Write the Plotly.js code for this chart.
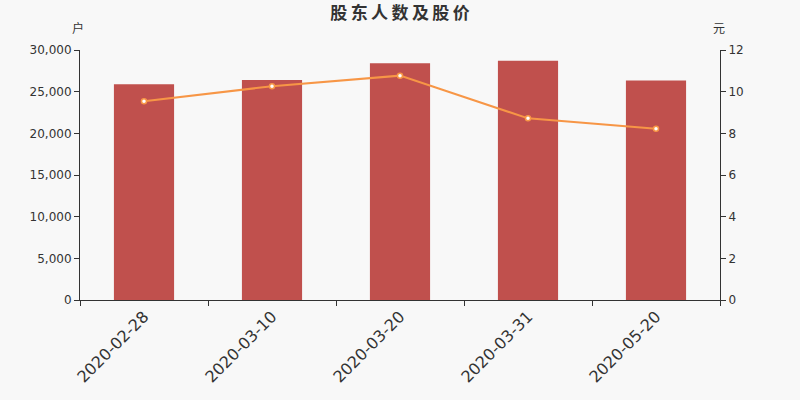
<!DOCTYPE html>
<html>
<head>
<meta charset="utf-8">
<script src="https://cdn.plot.ly/plotly-3.0.1.min.js"></script>
<style>body{margin:0;background:#f8f8f8}</style>
</head>
<body>
<div id="chart" style="width:800px;height:400px"></div>
<script>
var dates = ['2020-02-28', '2020-03-10', '2020-03-20', '2020-03-31', '2020-05-20'];
var holders = [25900, 26400, 28400, 28700, 26350];
var prices = [9.54, 10.26, 10.77, 8.72, 8.22];

var font = 'DejaVu Sans, Noto Sans CJK SC, sans-serif';
var cjk = 'Noto Sans CJK SC, sans-serif';

// title characters spaced out a little, like the original
var titleText = '股东人数及股价'.split('').join('\u2009');

var data = [
    {
        x: dates,
        y: holders,
        type: 'bar',
        name: '股东人数',
        marker: {color: '#c0504d'},
        hoverinfo: 'x+y'
    },
    {
        x: dates,
        y: prices,
        type: 'scatter',
        mode: 'lines+markers',
        name: '股价',
        yaxis: 'y2',
        line: {color: '#f79646', width: 2},
        marker: {size: 5, color: '#ffffff', line: {color: '#f79646', width: 1.5}}
    }
];

var layout = {
    width: 800,
    height: 400,
    paper_bgcolor: '#f8f8f8',
    plot_bgcolor: '#f8f8f8',
    showlegend: false,
    bargap: 0.53,
    margin: {l: 80, r: 80, t: 50, b: 100},
    font: {family: font, color: '#333'},
    title: {
        text: titleText,
        x: 0.5,
        xanchor: 'center',
        y: 0.967,
        yanchor: 'middle',
        font: {size: 17, family: cjk, color: '#333', weight: 'bold'}
    },
    xaxis: {
        type: 'category',
        showline: true,
        linecolor: '#333',
        linewidth: 1,
        ticks: 'outside',
        tickson: 'boundaries',
        ticklen: 5,
        tickcolor: '#333',
        tickangle: -45,
        tickfont: {size: 16, color: '#333'},
        showgrid: false,
        zeroline: false
    },
    yaxis: {
        range: [0, 30000],
        dtick: 5000,
        tickformat: ',d',
        showline: true,
        linecolor: '#333',
        ticks: 'outside',
        ticklen: 5,
        tickcolor: '#333',
        tickfont: {size: 12, color: '#333'},
        showgrid: false,
        zeroline: false
    },
    yaxis2: {
        range: [0, 12],
        dtick: 2,
        overlaying: 'y',
        side: 'right',
        showline: true,
        linecolor: '#333',
        ticks: 'outside',
        ticklen: 5,
        tickcolor: '#333',
        tickfont: {size: 12, color: '#333'},
        showgrid: false,
        zeroline: false
    },
    annotations: [
        {text: '户', xref: 'paper', yref: 'paper', x: -0.003, y: 1.088,
         xanchor: 'center', yanchor: 'middle', showarrow: false,
         font: {size: 12, family: cjk, color: '#333'}},
        {text: '元', xref: 'paper', yref: 'paper', x: 0.998, y: 1.088,
         xanchor: 'center', yanchor: 'middle', showarrow: false,
         font: {size: 12, family: cjk, color: '#333'}}
    ]
};

Plotly.newPlot('chart', data, layout, {displayModeBar: false});
</script>
</body>
</html>
